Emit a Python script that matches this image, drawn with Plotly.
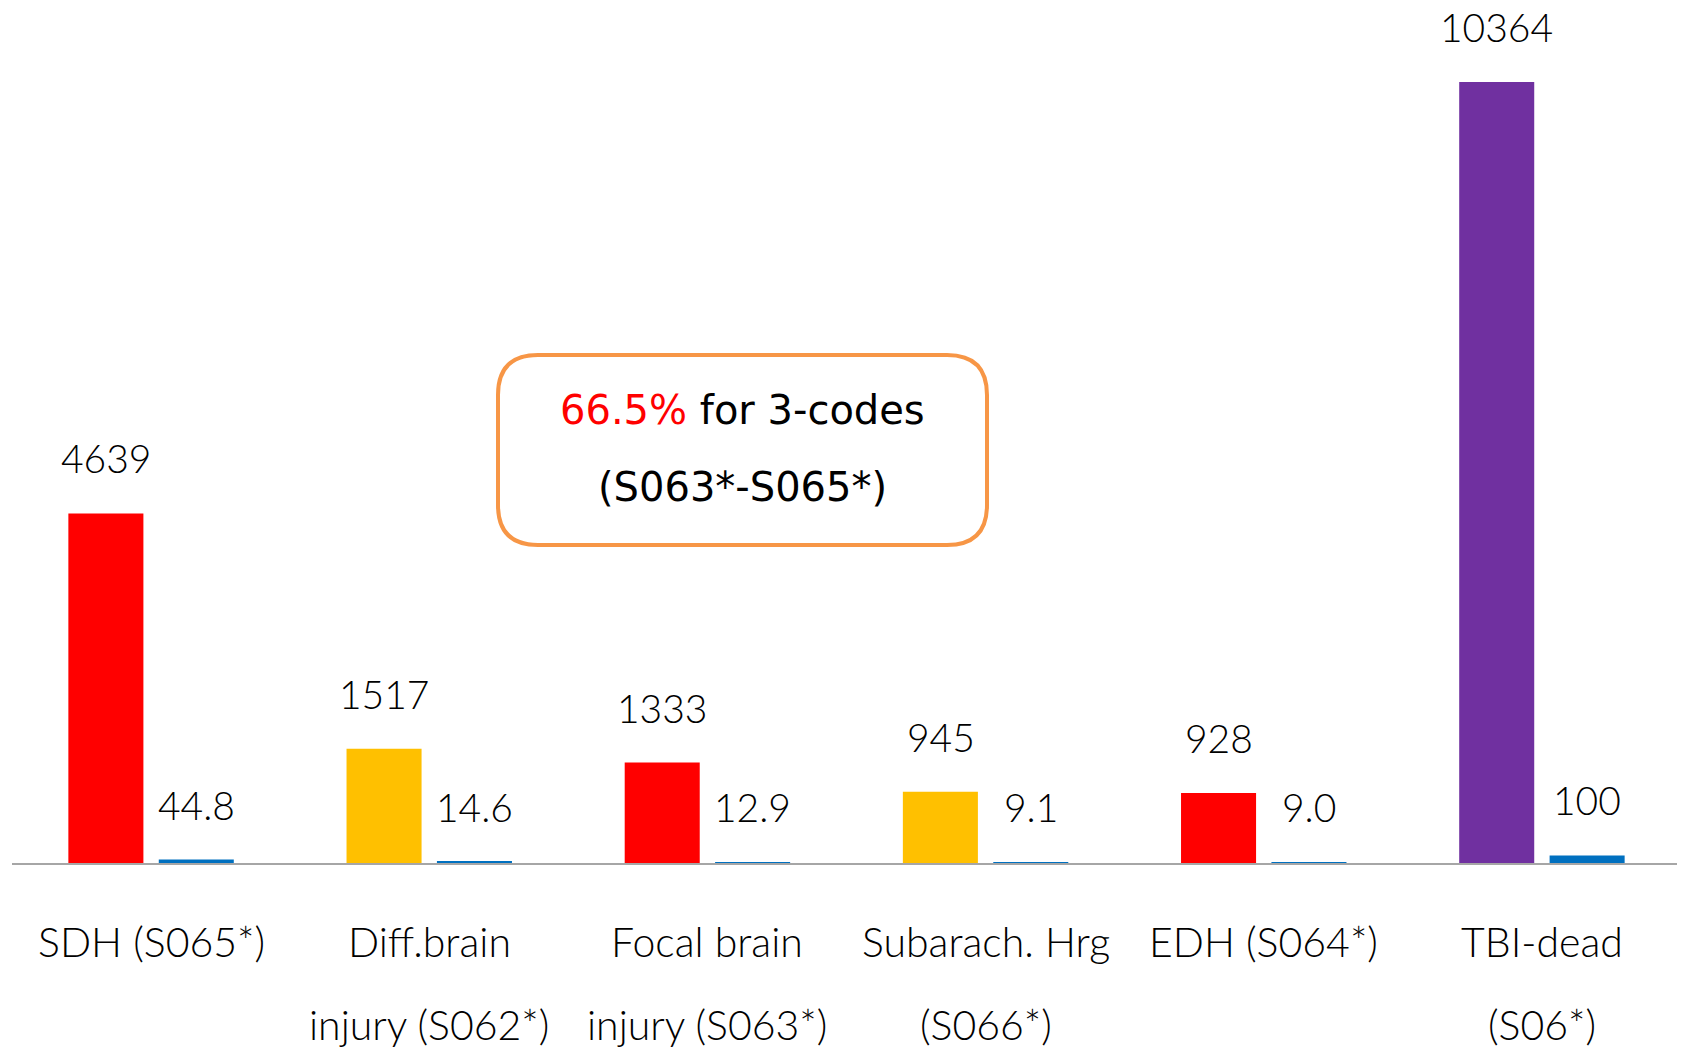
import plotly.graph_objects as go

# category labels, split over two lines as in the original slide
label_line1 = ["SDH (S065*)", "Diff.brain", "Focal brain", "Subarach. Hrg", "EDH (S064*)", "TBI-dead"]
label_line2 = ["", "injury (S062*)", "injury (S063*)", "(S066*)", "", "(S06*)"]
categories = [(a + " " + b).strip() for a, b in zip(label_line1, label_line2)]

cases = [4639, 1517, 1333, 945, 928, 10364]
percent = [44.8, 14.6, 12.9, 9.1, 9.0, 100]
case_colors = ["#FF0000", "#FFC000", "#FF0000", "#FFC000", "#FF0000", "#7030A0"]
percent_color = "#0070C0"

box_highlight = "66.5%"
box_text1 = " for 3-codes"
box_text2 = "(S063*-S065*)"

# page has an 8px body margin, so the figure is a bit smaller than the window
OFF = 8
FIG_W, FIG_H = 1677, 1040
ML, MR, MT, MB = 4, 4, 0, 185
W, H = FIG_W - ML - MR, FIG_H - MT - MB


def py(page_y):
    # page pixel row -> paper y
    return 1 - (page_y - OFF - MT) / H


def px(page_x):
    return (page_x - OFF - ML) / W


fig = go.Figure()
fig.add_trace(go.Bar(x=categories, y=cases, marker=dict(color=case_colors, line=dict(width=0)), name="cases"))
fig.add_trace(go.Bar(x=categories, y=percent, marker=dict(color=percent_color, line=dict(width=0)), name="%"))

num_font = dict(family="Lato, Noto Sans, sans-serif", size=39, color="#000000", weight=300)
lab_font = dict(family="Lato, Noto Sans, sans-serif", size=41, color="#000000", weight=300)

annotations = []
bar_offset = 45
for cat, c, p in zip(categories, cases, percent):
    annotations.append(dict(x=cat, y=c, xref="x", yref="y", text=str(c), showarrow=False,
                            xshift=-bar_offset, yshift=55, yanchor="middle", height=36,
                            valign="middle", font=num_font))
    p_txt = f"{p:.1f}" if (p % 1 or p < 100) else f"{p:.0f}"
    annotations.append(dict(x=cat, y=p, xref="x", yref="y", text=p_txt, showarrow=False,
                            xshift=bar_offset, yshift=55, yanchor="middle", height=36,
                            valign="middle", font=num_font))

for cat, l1, l2 in zip(categories, label_line1, label_line2):
    annotations.append(dict(x=cat, y=0, xref="x", yref="paper", text=l1, showarrow=False,
                            yshift=-78, yanchor="middle", font=lab_font))
    if l2:
        annotations.append(dict(x=cat, y=0, xref="x", yref="paper", text=l2, showarrow=False,
                                yshift=-161, yanchor="middle", font=lab_font))

# rounded callout box (paper coords)
bx0, bx1 = px(498), px(987)
by0, by1 = py(545), py(355)
rx, ry = 40 / W, 40 / H
path = (f"M {bx0 + rx} {by1} L {bx1 - rx} {by1} Q {bx1} {by1} {bx1} {by1 - ry} "
        f"L {bx1} {by0 + ry} Q {bx1} {by0} {bx1 - rx} {by0} "
        f"L {bx0 + rx} {by0} Q {bx0} {by0} {bx0} {by0 + ry} "
        f"L {bx0} {by1 - ry} Q {bx0} {by1} {bx0 + rx} {by1} Z")
shapes = [dict(type="path", xref="paper", yref="paper", path=path,
               line=dict(color="#F79646", width=4), fillcolor="white", layer="above")]

box_font = dict(family="DejaVu Sans, sans-serif", size=40, color="#000000")
bxc = (bx0 + bx1) / 2
annotations.append(dict(x=bxc, y=py(410), xref="paper", yref="paper", showarrow=False,
                        text=f"<span style='color:#FF0000'>{box_highlight}</span>{box_text1}",
                        yanchor="middle", font=box_font))
annotations.append(dict(x=bxc, y=py(487), xref="paper", yref="paper", showarrow=False,
                        text=box_text2, yanchor="middle", font=box_font))

fig.update_layout(
    width=FIG_W, height=FIG_H,
    margin=dict(l=ML, r=MR, t=MT, b=MB),
    plot_bgcolor="white", paper_bgcolor="white",
    barmode="group", bargap=0.35, bargroupgap=0.17,
    showlegend=False,
    annotations=annotations, shapes=shapes,
)
fig.update_xaxes(showticklabels=False, showgrid=False, showline=True,
                 linecolor="#A6A6A6", linewidth=2, ticks="")
# 781 px for 10364 cases -> range top from plot height
fig.update_yaxes(range=[0, H * 10364 / 781], visible=False, showgrid=False, zeroline=False)

fig.write_html("out.html")
